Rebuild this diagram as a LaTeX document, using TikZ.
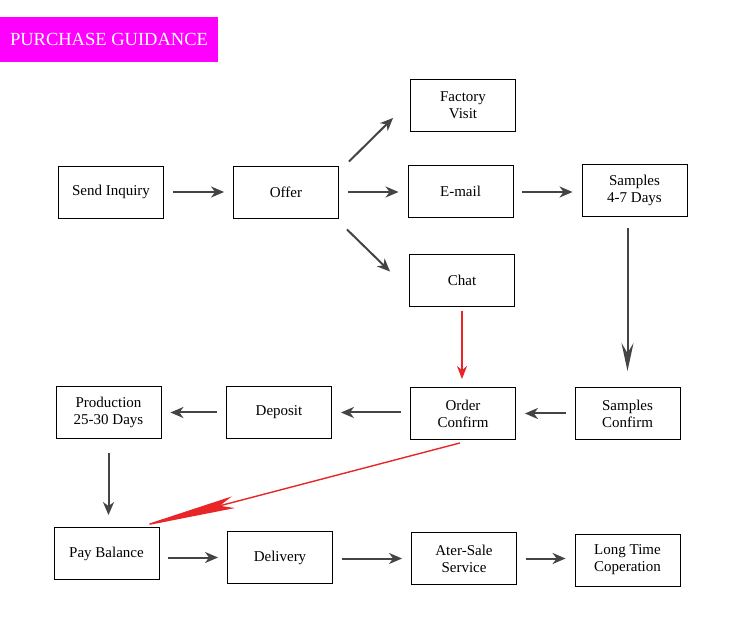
\documentclass[tikz,border=0pt]{standalone}
\usepackage{fontspec}
\setmainfont{Liberation Serif}
\usetikzlibrary{arrows.meta,calc}
\definecolor{arrgray}{RGB}{68,68,68}
\definecolor{arrred}{RGB}{232,38,40}
\definecolor{titlemag}{RGB}{255,0,255}

\begin{document}
\begin{tikzpicture}[x=1pt,y=-1pt,
  font=\fontsize{15}{17}\selectfont,
  box/.style={draw,line width=0.9pt,align=center,minimum width=105pt,minimum height=52pt,inner sep=2pt,fill=white},
  ttl/.style={fill=titlemag,text=white,minimum width=218pt,minimum height=45pt,inner sep=0pt,font=\fontsize{18.5}{20}\selectfont},
  arr/.style={-{Stealth[length=13pt,width=11pt,inset=4pt]},line width=2pt,draw=arrgray,shorten <=9pt,shorten >=9pt},
  rarr/.style={-{Stealth[length=13pt,width=10pt,inset=4pt]},line width=1.4pt,draw=arrred}]
\useasboundingbox (0,0) rectangle (750,617);
% ---------- title ----------
\node[ttl] (title) at (109,39.5) {PURCHASE GUIDANCE};
% ---------- Row 1: inquiry and contact ----------
\node[box] (send) at (111,192) {Send Inquiry};
\node[box] (offer) at (286,192) {Offer};
\node[box] (factory) at (463,105.5) {Factory\\Visit};
\node[box] (email) at (460.5,191.5) {E-mail};
\node[box] (samples) at (634.5,190) {Samples\\4-7 Days};
\node[box] (chat) at (462,280) {Chat};
\draw[arr] (send) -- (offer);
\draw[arr] (offer) -- (offer -| email.west);
\draw[arr,shorten <=0pt,shorten >=0pt] ($(offer.north east)+(10,-4)$) -- ($(factory.south west)+(-17,-14)$);
\draw[arr,shorten <=0pt,shorten >=0pt] ($(offer.south east)+(8,11)$) -- ($(chat.north west)+(-19,18)$);
\draw[arr] (offer -| email.east) -- (offer -| samples.west);
% ---------- Row 2: confirmation ----------
\node[box] (sconf) at (627.5,413.5) {Samples\\Confirm};
\node[box] (oconf) at (463,413.5) {Order\\Confirm};
\node[box] (deposit) at (279,412.5) {Deposit};
\node[box] (prod) at (108.5,412.5) {Production\\25-30 Days};
\draw[arr,-{Stealth[length=28pt,width=12pt,inset=10pt]},shorten <=12pt,shorten >=16pt] (samples.south -| sconf) -- (sconf.north);
\draw[rarr,shorten <=5pt,shorten >=8pt] (chat.south) -- (chat.south |- oconf.north);
\draw[arr] (sconf) -- (oconf);
\draw[arr] (oconf.west |- deposit) -- (deposit);
\draw[arr] (deposit) -- (prod);
% ---------- Row 3: payment and delivery ----------
\node[box] (pay) at (106.5,553.5) {Pay Balance};
\node[box] (delivery) at (280,557.5) {Delivery};
\node[box] (after) at (464,558.5) {Ater-Sale\\Service};
\node[box] (long) at (627.5,560) {Long Time\\Coperation};
\draw[arr,shorten <=14pt,shorten >=12pt] (prod.south) -- (prod.south |- pay.north);
\draw[-{Stealth[length=98pt,width=12pt,inset=14pt]},line width=1.4pt,draw=arrred,fill=arrred] ($(oconf.south)+(-3,3)$) -- ($(pay.north east)+(-21,0)$);
\draw[arr] (pay.east |- delivery) -- (delivery);
\draw[arr] (delivery.east |- after) -- (after);
\draw[arr] (after) -- (after -| long.west);
\end{tikzpicture}
\end{document}
